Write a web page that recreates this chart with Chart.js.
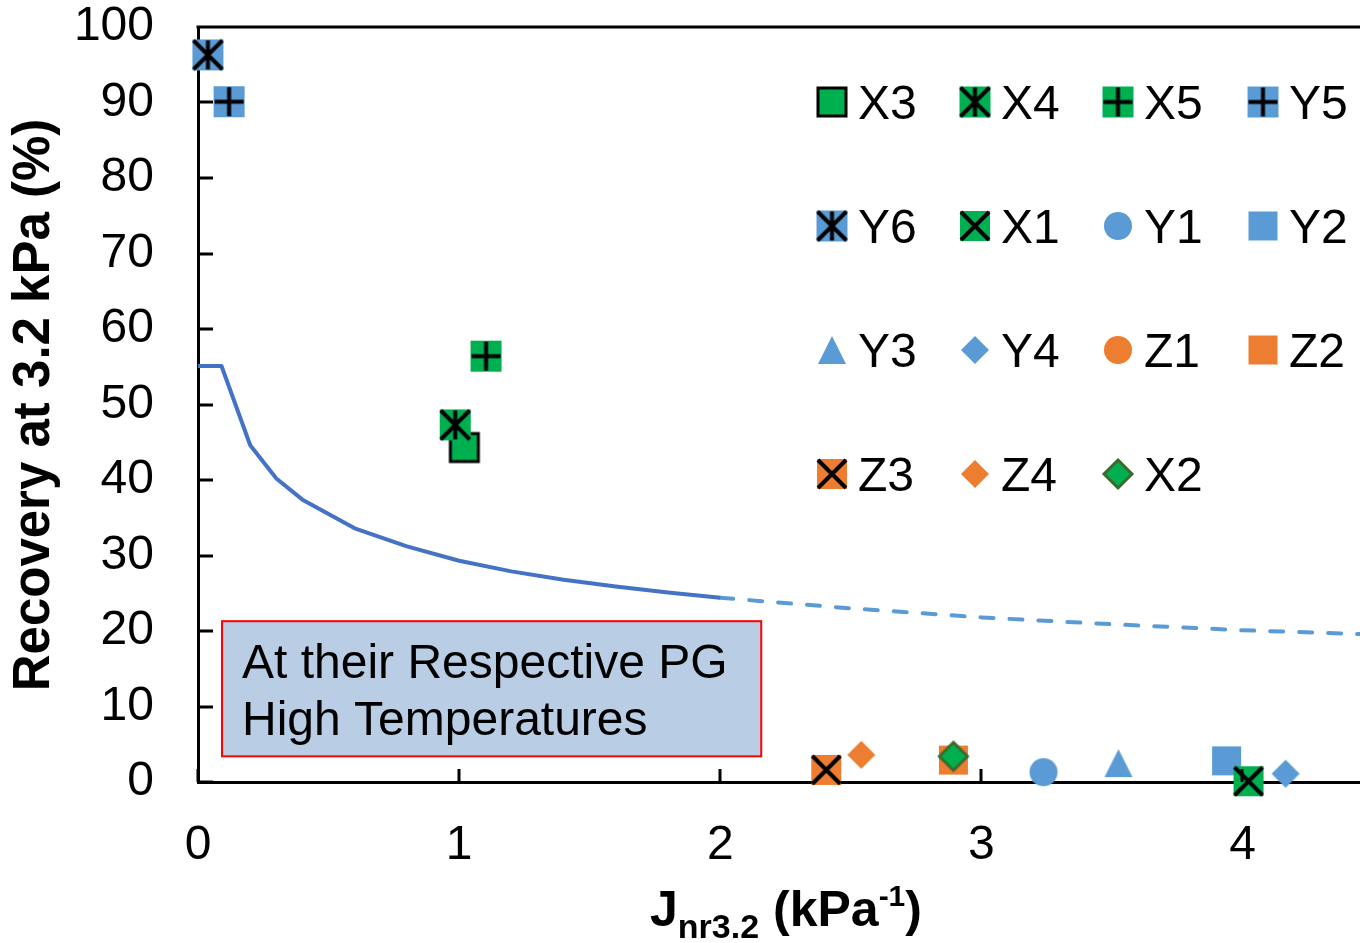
<!DOCTYPE html>
<html>
<head>
<meta charset="utf-8">
<script src="https://cdn.jsdelivr.net/npm/chart.js@4.4.0/dist/chart.umd.min.js"></script>
<style>
    body { margin: 0; background: #ffffff; }
    canvas { display: block; }
</style>
</head>
<body>
<canvas id="grafico_recuperacao" width="1360" height="943"></canvas>
<script>
// amostras, na ordem da legenda
const nomes = ['X3', 'X4', 'X5', 'Y5', 'Y6', 'X1', 'Y1', 'Y2', 'Y3', 'Y4', 'Z1', 'Z2', 'Z3', 'Z4', 'X2'];
const jnr = [1.02, 0.985, 1.103, 0.119, 0.038, 4.023, 3.238, 3.939, 3.525, 4.165, 2.406, 2.893, 2.406, 2.54, 2.893];
const recuperacao = [44.3, 47.3, 56.4, 90.1, 96.3, 0.1, 1.3, 2.8, 2.5, 1.1, 1.6, 2.9, 1.6, 3.6, 3.4];

// curva de referencia (trecho medido e trecho extrapolado)
const curvaJnr = [0, 0.09, 0.2, 0.3, 0.4, 0.6, 0.8, 1.0, 1.2, 1.4, 1.6, 1.8, 2.0];
const curvaRec = [55.1, 55.1, 44.6, 40.2, 37.4, 33.6, 31.2, 29.3, 27.9, 26.8, 25.9, 25.1, 24.4];
const extraJnr = [2.0, 2.5, 3.0, 3.5, 4.0, 4.45];
const extraRec = [24.4, 23.0, 21.8, 20.9, 20.1, 19.6];

const ticksX = [0, 1, 2, 3, 4];
const ticksY = [0, 10, 20, 30, 40, 50, 60, 70, 80, 90, 100];

// ordem de desenho, de baixo para cima
const ordemDesenho = ['Z1', 'X3', 'X4', 'X5', 'Y5', 'Y6', 'Y2', 'X1', 'Y1', 'Y3', 'Y4', 'Z2', 'Z3', 'Z4', 'X2'];

const VERDE = '#00B050';
const AZUL = '#5B9BD5';
const LARANJA = '#ED7D31';
const FONTE = '"Liberation Sans", Arial, sans-serif';

function criarMarcador(forma, cor, borda, sobreposicao, tamanho) {
    const c = document.createElement('canvas');
    c.width = tamanho + 8;
    c.height = tamanho + 8;
    const ctx = c.getContext('2d');
    const m = c.width / 2;
    const r = tamanho / 2;

    ctx.fillStyle = cor;
    ctx.beginPath();
    if (forma == 'quadrado') {
        ctx.rect(m - r, m - r, tamanho, tamanho);
    } else if (forma == 'circulo') {
        ctx.arc(m, m, r, 0, Math.PI * 2);
    } else if (forma == 'triangulo') {
        ctx.moveTo(m, m - r);
        ctx.lineTo(m + r, m + r);
        ctx.lineTo(m - r, m + r);
        ctx.closePath();
    } else if (forma == 'losango') {
        ctx.moveTo(m, m - r);
        ctx.lineTo(m + r, m);
        ctx.lineTo(m, m + r);
        ctx.lineTo(m - r, m);
        ctx.closePath();
    }
    ctx.fill();
    if (borda) {
        ctx.strokeStyle = borda;
        ctx.lineWidth = 3;
        ctx.stroke();
    }

    ctx.strokeStyle = '#000000';
    ctx.lineWidth = 4;
    const s = r - 1;
    ctx.beginPath();
    if (sobreposicao == 'x' || sobreposicao == 'asterisco') {
        ctx.moveTo(m - s, m - s);
        ctx.lineTo(m + s, m + s);
        ctx.moveTo(m + s, m - s);
        ctx.lineTo(m - s, m + s);
    }
    if (sobreposicao == 'asterisco' || sobreposicao == 'mais') {
        ctx.moveTo(m, m - s);
        ctx.lineTo(m, m + s);
    }
    if (sobreposicao == 'mais') {
        ctx.moveTo(m - s, m);
        ctx.lineTo(m + s, m);
    }
    ctx.stroke();
    return c;
}

const marcadores = {
    X3: criarMarcador('quadrado', VERDE, '#000000', null, 28),
    X4: criarMarcador('quadrado', VERDE, null, 'asterisco', 31),
    X5: criarMarcador('quadrado', VERDE, null, 'mais', 31),
    Y5: criarMarcador('quadrado', AZUL, null, 'mais', 31),
    Y6: criarMarcador('quadrado', AZUL, null, 'asterisco', 31),
    X1: criarMarcador('quadrado', VERDE, null, 'x', 30),
    Y1: criarMarcador('circulo', AZUL, null, null, 28),
    Y2: criarMarcador('quadrado', AZUL, null, null, 29),
    Y3: criarMarcador('triangulo', AZUL, null, null, 28),
    Y4: criarMarcador('losango', AZUL, null, null, 28),
    Z1: criarMarcador('circulo', LARANJA, null, null, 28),
    Z2: criarMarcador('quadrado', LARANJA, null, null, 29),
    Z3: criarMarcador('quadrado', LARANJA, null, 'x', 30),
    Z4: criarMarcador('losango', LARANJA, null, null, 28),
    X2: criarMarcador('losango', VERDE, '#3B6A2E', null, 28)
};

var datasets = [];
ordemDesenho.forEach(function (nome, k) {
    const i = nomes.indexOf(nome);
    datasets.push({
        label: nome,
        data: [{ x: jnr[i], y: recuperacao[i] }],
        pointStyle: marcadores[nome],
        pointRadius: 16,
        clip: false,
        order: ordemDesenho.length - k
    });
});

datasets.push({
    label: 'curva',
    data: curvaJnr.map(function (x, i) { return { x: x, y: curvaRec[i] }; }),
    showLine: true,
    pointRadius: 0,
    borderColor: '#4472C4',
    borderWidth: 4,
    borderJoinStyle: 'round',
    order: 100
});
datasets.push({
    label: 'extrapolada',
    data: extraJnr.map(function (x, i) { return { x: x, y: extraRec[i] }; }),
    showLine: true,
    pointRadius: 0,
    borderColor: AZUL,
    borderWidth: 4,
    borderDash: [13, 16],
    borderCapStyle: 'round',
    order: 101
});

// moldura superior, marcas internas dos eixos e titulos
const eixosExtras = {
    id: 'eixosExtras',
    afterDraw(chart) {
        const ctx = chart.ctx;
        const area = chart.chartArea;
        const sx = chart.scales.x;
        const sy = chart.scales.y;
        ctx.save();
        ctx.strokeStyle = '#000000';
        ctx.lineWidth = 3;
        ctx.beginPath();
        ctx.moveTo(area.left - 1.5, area.top);
        ctx.lineTo(area.right, area.top);
        ticksY.forEach(function (v) {
            const py = Math.round(sy.getPixelForValue(v));
            ctx.moveTo(area.left, py);
            ctx.lineTo(area.left + 15, py);
        });
        ticksX.forEach(function (v) {
            const px = Math.round(sx.getPixelForValue(v));
            ctx.moveTo(px, area.bottom);
            ctx.lineTo(px, area.bottom - 13);
        });
        ctx.stroke();

        ctx.fillStyle = '#000000';
        // titulo do eixo y
        ctx.save();
        ctx.translate(35, 405);
        ctx.rotate(-Math.PI / 2);
        ctx.font = 'bold 51px ' + FONTE;
        ctx.textAlign = 'center';
        ctx.textBaseline = 'middle';
        ctx.fillText('Recovery at 3.2 kPa (%)', 0, 0);
        ctx.restore();

        // titulo do eixo x com subscrito e sobrescrito
        const partes = [
            { t: 'J', f: 'bold 50px ', dy: 0 },
            { t: 'nr3.2', f: 'bold 34px ', dy: 12 },
            { t: ' (kPa', f: 'bold 50px ', dy: 0 },
            { t: '-1', f: 'bold 30px ', dy: -20 },
            { t: ')', f: 'bold 50px ', dy: 0 }
        ];
        var total = 0;
        partes.forEach(function (p) {
            ctx.font = p.f + FONTE;
            p.w = ctx.measureText(p.t).width;
            total += p.w;
        });
        var x0 = 786 - total / 2;
        ctx.textAlign = 'left';
        ctx.textBaseline = 'alphabetic';
        partes.forEach(function (p) {
            ctx.font = p.f + FONTE;
            ctx.fillText(p.t, x0, 926 + p.dy);
            x0 += p.w;
        });
        ctx.restore();
    }
};

// caixa de texto dentro da area do grafico
const caixaTexto = {
    id: 'caixaTexto',
    afterDatasetsDraw(chart) {
        const ctx = chart.ctx;
        const sx = chart.scales.x;
        const sy = chart.scales.y;
        const x1 = sx.getPixelForValue(0.092);
        const x2 = sx.getPixelForValue(2.157);
        const y1 = sy.getPixelForValue(21.3);
        const y2 = sy.getPixelForValue(3.4);
        ctx.save();
        ctx.fillStyle = '#B9CDE5';
        ctx.fillRect(x1, y1, x2 - x1, y2 - y1);
        ctx.strokeStyle = '#FF0000';
        ctx.lineWidth = 2;
        ctx.strokeRect(x1, y1, x2 - x1, y2 - y1);
        ctx.fillStyle = '#000000';
        ctx.font = '48px ' + FONTE;
        ctx.textBaseline = 'alphabetic';
        ctx.fillText('At their Respective PG', x1 + 20, y1 + 57);
        ctx.fillText('High Temperatures', x1 + 20, y1 + 114);
        ctx.restore();
    }
};

// legenda em grade de 4 colunas
const legendaGrade = {
    id: 'legendaGrade',
    afterDraw(chart) {
        const ctx = chart.ctx;
        const colunas = [832, 975, 1118, 1263];
        const linhas = [102, 226, 350, 474];
        ctx.save();
        ctx.font = '48px ' + FONTE;
        ctx.fillStyle = '#000000';
        ctx.textBaseline = 'alphabetic';
        nomes.forEach(function (nome, i) {
            const cx = colunas[i % 4];
            const cy = linhas[Math.floor(i / 4)];
            const img = marcadores[nome];
            ctx.drawImage(img, cx - img.width / 2, cy - img.height / 2);
            ctx.fillText(nome, cx + 26, cy + 17);
        });
        ctx.restore();
    }
};

function criarGrafico() {
    const ctx = document.getElementById('grafico_recuperacao');

    new Chart(ctx, {
        type: 'scatter',
        data: { datasets: datasets },
        options: {
            responsive: false,
            animation: false,
            events: [],
            layout: { autoPadding: false, padding: { top: 27, right: 0, left: 0, bottom: 0 } },
            scales: {
                x: {
                    type: 'linear',
                    min: 0,
                    max: 4.45,
                    afterFit: function (s) {
                        s.height = 161;
                        s.paddingLeft = 0;
                        s.paddingRight = 0;
                    },
                    afterBuildTicks: function (s) { s.ticks = ticksX.map(function (v) { return { value: v }; }); },
                    grid: { display: false, drawTicks: false },
                    border: { display: true, color: '#000000', width: 3 },
                    ticks: {
                        color: '#000000',
                        padding: 35,
                        maxRotation: 0,
                        font: { family: FONTE, size: 48 }
                    }
                },
                y: {
                    type: 'linear',
                    min: 0,
                    max: 100,
                    afterFit: function (s) {
                        s.width = 198;
                        s.paddingTop = 0;
                        s.paddingBottom = 0;
                    },
                    afterBuildTicks: function (s) { s.ticks = ticksY.map(function (v) { return { value: v }; }); },
                    grid: { display: false, drawTicks: false },
                    border: { display: true, color: '#000000', width: 3 },
                    ticks: {
                        color: '#000000',
                        padding: 44,
                        font: { family: FONTE, size: 48 }
                    }
                }
            },
            plugins: {
                legend: { display: false },
                tooltip: { enabled: false }
            }
        },
        plugins: [caixaTexto, eixosExtras, legendaGrade]
    });
}

criarGrafico();
</script>
</body>
</html>
